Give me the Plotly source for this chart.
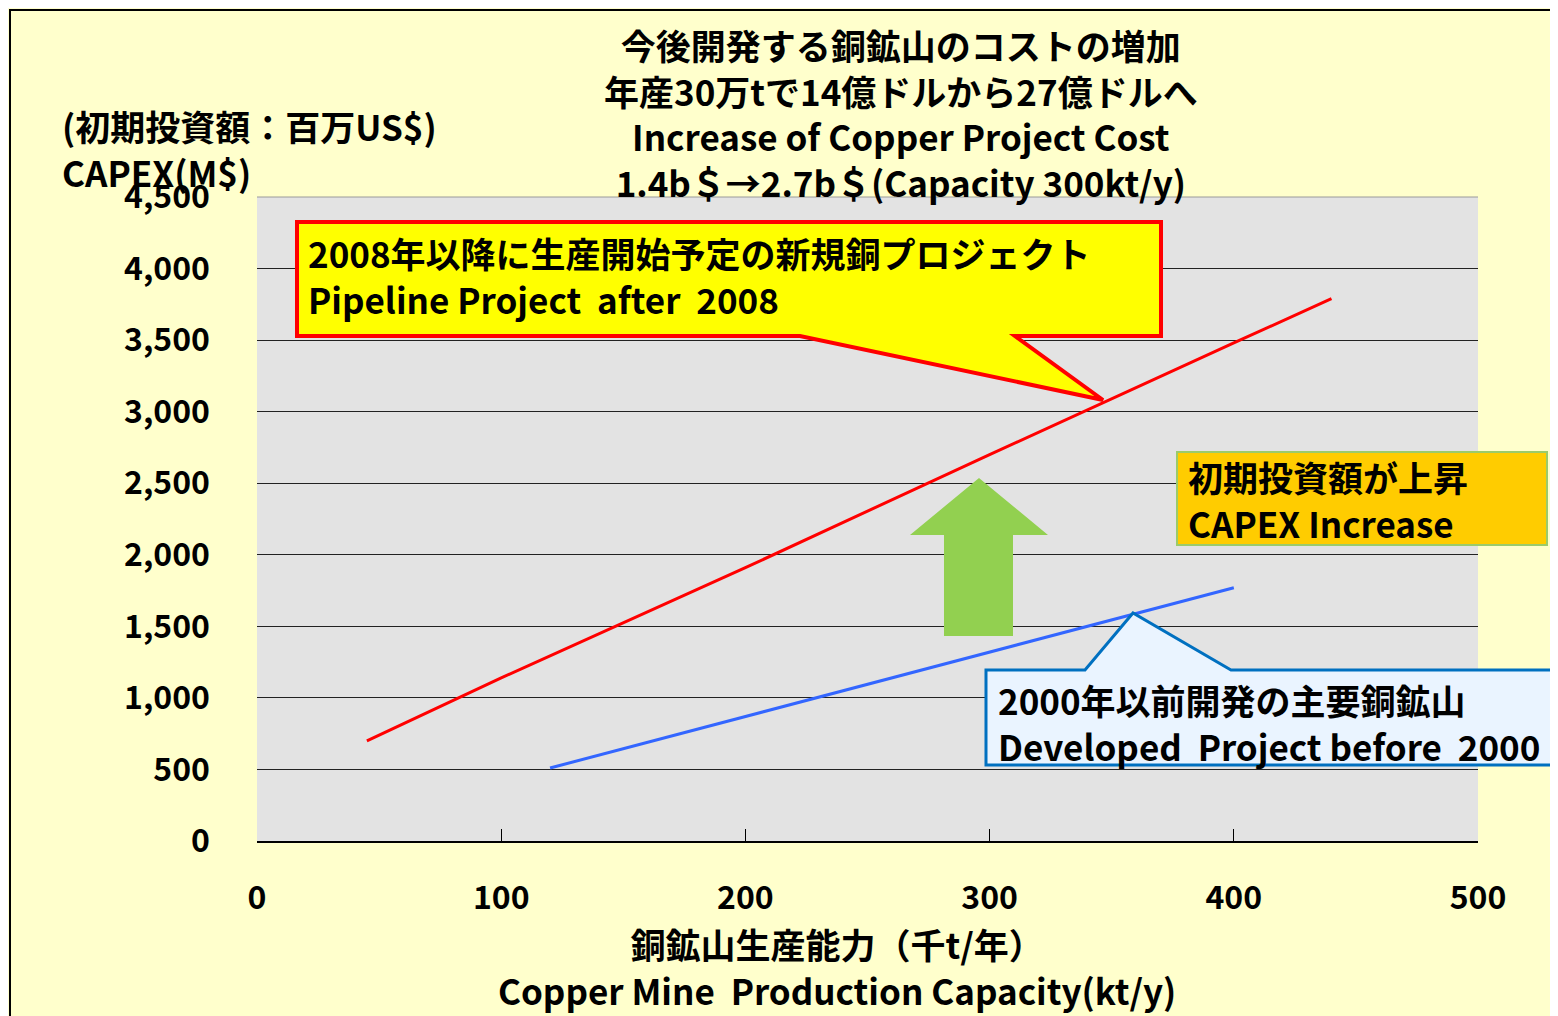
"""
Copper project CAPEX vs production capacity: pipeline (after 2008) vs developed (before 2000).
"""

import plotly.graph_objects as go

# data
pipeline_capacity = [45, 100, 200, 300, 400, 440]
pipeline_capex = [700, 1140, 1910, 2700, 3480, 3790]
developed_capacity = [120, 200, 300, 400]
developed_capex = [510, 870, 1320, 1770]

x_ticks = [0, 100, 200, 300, 400, 500]
y_ticks = [0, 500, 1000, 1500, 2000, 2500, 3000, 3500, 4000, 4500]
y_tick_labels = ["0", "500", "1,000", "1,500", "2,000", "2,500", "3,000", "3,500", "4,000", "4,500"]

title_lines = [
    "今後開発する銅鉱山のコストの増加",
    "年産30万tで14億ドルから27億ドルへ",
    "Increase of Copper Project Cost",
    "1.4b＄→2.7b＄(Capacity 300kt/y)",
]
y_title_lines = ["(初期投資額：百万US$)", "CAPEX(M$)"]
x_title_lines = ["銅鉱山生産能力（千t/年）", "Copper Mine\u00a0\u00a0Production Capacity(kt/y)"]
pipeline_note = ["2008年以降に生産開始予定の新規銅プロジェクト", "Pipeline Project\u00a0\u00a0after\u00a0\u00a02008"]
developed_note = ["2000年以前開発の主要銅鉱山", "Developed\u00a0\u00a0Project before\u00a0\u00a02000"]
increase_note = ["初期投資額が上昇", "CAPEX Increase"]

FONT = "Noto Sans CJK JP, Noto Sans, sans-serif"
OFF = 8  # page body margin around the figure
W, H = 1558 - OFF, 1016 - OFF
# plot area edges in page pixels
L, R, T, B = 257, 1478, 197, 841


def px(x):
    return (x - L) / (R - L)


def py(y):
    return (B - y) / (B - T)


def path(points):
    pts = [f"{px(x):.5f},{py(y):.5f}" for x, y in points]
    return "M " + " L ".join(pts) + " Z"


def text_block(lines, x, y_mid, size=35, anchor="left"):
    return dict(
        text="<br>".join(f"<b>{s}</b>" for s in lines),
        x=px(x),
        y=py(y_mid),
        xref="paper",
        yref="paper",
        xanchor=anchor,
        yanchor="middle",
        align=anchor,
        showarrow=False,
        font=dict(family=FONT, size=size, color="#000000"),
    )


fig = go.Figure()
fig.add_trace(
    go.Scatter(
        x=pipeline_capacity,
        y=pipeline_capex,
        mode="lines",
        line=dict(color="#FF0000", width=3),
        name="Pipeline",
    )
)
fig.add_trace(
    go.Scatter(
        x=developed_capacity,
        y=developed_capex,
        mode="lines",
        line=dict(color="#3366FF", width=3),
        name="Developed",
    )
)

shapes = [
    # outer frame
    dict(type="rect", xref="paper", yref="paper", x0=px(10), y0=py(1100), x1=px(1700), y1=py(10),
         line=dict(color="#000000", width=2), layer="below"),
    # plot top border
    dict(type="line", xref="paper", yref="paper", x0=0, x1=1, y0=1, y1=1,
         line=dict(color="#9a9a9a", width=1), layer="above"),
    # green arrow
    dict(type="path", xref="paper", yref="paper",
         path=path([(979, 478), (1048, 535), (1013, 535), (1013, 636), (944, 636), (944, 535), (910, 535)]),
         fillcolor="#92D050", line=dict(width=0), layer="above"),
    # pipeline callout
    dict(type="path", xref="paper", yref="paper",
         path=path([(297, 222), (1161, 222), (1161, 336), (1015, 336), (1103, 400), (800, 336), (297, 336)]),
         fillcolor="#FFFF00", line=dict(color="#FF0000", width=4), layer="above"),
    # developed callout
    dict(type="path", xref="paper", yref="paper",
         path=path([(986, 670), (1085, 670), (1133, 613), (1231, 670), (1640, 670), (1640, 765), (986, 765)]),
         fillcolor="#EAF4FF", line=dict(color="#0070C0", width=3), layer="above"),
    # capex increase box
    dict(type="rect", xref="paper", yref="paper", x0=px(1177), y0=py(545), x1=px(1547), y1=py(452),
         fillcolor="#FFCC00", line=dict(color="#9BCB6A", width=2), layer="above"),
]

annotations = [
    text_block(title_lines, 901, 113, anchor="center"),
    text_block(y_title_lines, 60, 148),
    text_block(x_title_lines, 837, 966, anchor="center"),
    text_block(pipeline_note, 306, 275),
    text_block(developed_note, 996, 722),
    text_block(increase_note, 1186, 499),
]

fig.update_layout(
    width=W,
    height=H,
    margin=dict(l=L - OFF, r=W + OFF - R, t=T - OFF, b=H + OFF - B, pad=0),
    paper_bgcolor="#FFFFCC",
    plot_bgcolor="#E3E3E3",
    showlegend=False,
    shapes=shapes,
    annotations=annotations,
    font=dict(family=FONT, color="#000000"),
)
fig.update_xaxes(
    range=[0, 500],
    tickvals=x_ticks,
    ticktext=[f"<b>{v}</b>" for v in x_ticks],
    tickfont=dict(family=FONT, size=32),
    ticks="inside",
    ticklen=12,
    tickcolor="#000000",
    tickwidth=1,
    showline=True,
    linecolor="#000000",
    linewidth=2,
    showgrid=False,
    zeroline=False,
    ticklabelstandoff=28,
)
fig.update_yaxes(
    range=[0, 4500],
    tickvals=y_ticks,
    ticktext=[f"<b>{v}</b>" for v in y_tick_labels],
    tickfont=dict(family=FONT, size=32),
    ticks="",
    showline=False,
    showgrid=True,
    gridcolor="#222222",
    gridwidth=1,
    zeroline=False,
    ticklabelstandoff=46,
)

fig.write_html("out.html")
